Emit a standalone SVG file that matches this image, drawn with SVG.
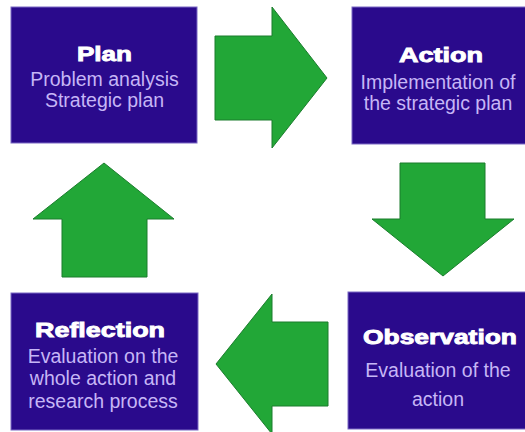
<svg xmlns="http://www.w3.org/2000/svg" width="525" height="432" viewBox="0 0 525 432">
  <style>
    .box { fill: #2a0a8c; stroke: #7a68c4; stroke-width: 1; }
    .title { font-family: "Liberation Sans", Arial, sans-serif; font-weight: bold; font-size: 21px; fill: #ffffff; stroke: #ffffff; stroke-width: 0.9; text-anchor: middle; }
    .sub { font-family: "Liberation Sans", Arial, sans-serif; font-size: 19.5px; fill: #c6b6f6; text-anchor: middle; }
    .arrow { fill: #22a737; stroke: #1b7d2d; stroke-width: 1; stroke-linejoin: miter; }
  </style>
  <rect width="525" height="432" fill="#ffffff"/>
  <g id="connectors">
    <polygon class="arrow" points="215,36 272,36 272,7 327,78 272,148 272,120 215,120"/>
    <polygon class="arrow" points="400,163 485,163 485,219 514,219 443,276 372,219 400,219"/>
    <polygon class="arrow" points="328,322 272,322 272,294 216,364 272,434 272,406 328,406"/>
    <polygon class="arrow" points="62,277 147,277 147,219 174,219 104,163 33,219 62,219"/>
  </g>
  <g id="plan">
    <rect class="box" x="11" y="7" width="186" height="136"/>
    <text class="title" x="104.5" y="61" textLength="55" lengthAdjust="spacingAndGlyphs">Plan</text>
    <text class="sub" x="104.5" y="86">Problem analysis</text>
    <text class="sub" x="104.5" y="107">Strategic plan</text>
  </g>
  <g id="action">
    <rect class="box" x="352" y="7" width="175" height="137"/>
    <text class="title" x="441" y="62" textLength="84" lengthAdjust="spacingAndGlyphs">Action</text>
    <text class="sub" x="438" y="89">Implementation of</text>
    <text class="sub" x="438" y="110">the strategic plan</text>
  </g>
  <g id="observation">
    <rect class="box" x="348" y="292" width="179" height="137"/>
    <text class="title" x="440" y="344" textLength="154" lengthAdjust="spacingAndGlyphs">Observation</text>
    <text class="sub" x="438" y="377">Evaluation of the</text>
    <text class="sub" x="438" y="406">action</text>
  </g>
  <g id="reflection">
    <rect class="box" x="11" y="293" width="187" height="137"/>
    <text class="title" x="100" y="337" textLength="130" lengthAdjust="spacingAndGlyphs">Reflection</text>
    <text class="sub" x="103" y="363">Evaluation on the</text>
    <text class="sub" x="103" y="385">whole action and</text>
    <text class="sub" x="103" y="408">research process</text>
  </g>
</svg>
